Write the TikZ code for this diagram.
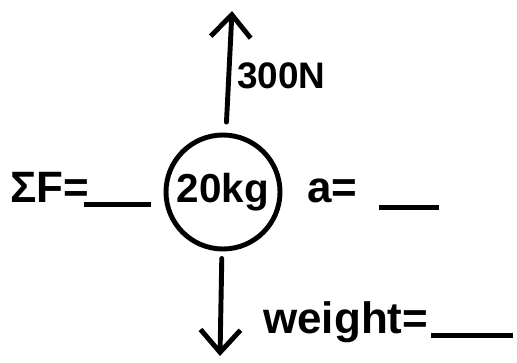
\documentclass[tikz,border=0pt]{standalone}
\usepackage{fontspec}
\setmainfont{Liberation Sans}
\usetikzlibrary{positioning, arrows.meta}
\newcommand{\blank}[2]{\raisebox{#2}{\rule{#1}{2.8pt}}}
\begin{document}
\begin{tikzpicture}[
    ink/.style={line width=2.8pt, line cap=round, line join=round},
    mass/.style={draw, circle, ink, minimum size=2.28cm, inner sep=0pt, font=\fontsize{23}{23}\selectfont\bfseries},
    lbl/.style={inner sep=0pt, font=\fontsize{25}{25}\selectfont\bfseries},
    arrow/.style={ink, -{Straight Barb[length=4.5mm, width=8mm]}}
]
    \useasboundingbox (0,0) rectangle (10.34,-7.24);
    \node[mass] (body) at (4.46,-3.84) {20kg};
    \coordinate (uptip) at (4.64,-0.22);
    \coordinate (downtip) at (4.4,-7.12);

    \node[lbl, anchor=base west, font=\fontsize{21}{21}\selectfont\bfseries] (force) at (4.74,-1.76) {300N};
    \node[lbl, anchor=base west] (sumF) at (0.2,-4.04) {ΣF=\hspace{-0.1cm}\blank{1.34cm}{-0.1cm}};
    \node[lbl, anchor=base west] (accel) at (6.14,-4.04) {a=\hspace{0.44cm}\blank{1.2cm}{-0.16cm}};
    \node[lbl, anchor=base west] (weight) at (5.26,-6.66) {weight=\hspace{0.06cm}\blank{1.64cm}{-0.1cm}};

    \draw[arrow, shorten <=6pt] (body) -- (uptip);
    \draw[arrow, shorten <=4pt] (body) -- (downtip);
\end{tikzpicture}
\end{document}
